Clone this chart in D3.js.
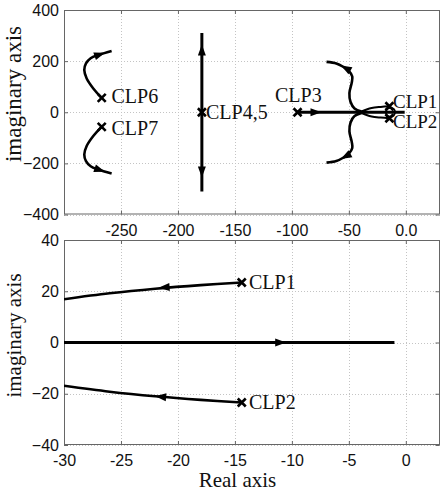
<!DOCTYPE html>
<html>
<head>
<meta charset="utf-8">
<script src="https://cdn.jsdelivr.net/npm/d3@7"></script>
<style>
body { margin: 0; background: #fff; }
</style>
</head>
<body>
<svg id="chart" width="440" height="494"></svg>
<script>
// ticks
var topXTicks = [-250, -200, -150, -100, -50, 0];
var topXLabels = ["-250", "-200", "-150", "-100", "-50", "0.0"];
var topYTicks = [400, 200, 0, -200, -400];
var botXTicks = [-30, -25, -20, -15, -10, -5, 0];
var botYTicks = [40, 20, 0, -20, -40];

// top view branches (real, imag)
var clp6Re = [-266.9, -274.3, -280.1, -282.2, -280.7, -276.6, -269.9, -258.2];
var clp6Im = [56, 93, 132, 165, 191, 211, 224, 240];
var clp7Re = [-266.9, -274.3, -280.1, -282.2, -280.7, -276.6, -269.9, -258.2];
var clp7Im = [-56, -93, -132, -165, -191, -211, -224, -240];
var clp45Re = [-179, -179];
var clp45Im = [310, -310];
var realRe = [-95, -1];
var realIm = [0, 0];
var clp1Re = [-14.4, -22, -30, -35, -38.9];
var clp1Im = [23.4, 21, 16.9, 10, 3];
var clp2Re = [-14.4, -22, -30, -35, -38.9];
var clp2Im = [-23.4, -21, -16.9, -10, -3];
var upRe = [-38.9, -45, -48.5, -49.5, -47.5, -47, -50, -55, -61, -69.6];
var upIm = [3, 15, 40, 75, 115, 140, 162, 178, 191, 197];
var dnRe = [-38.9, -45, -48.5, -49.5, -47.5, -47, -50, -55, -61, -69.6];
var dnIm = [-3, -15, -40, -75, -115, -140, -162, -178, -191, -197];

// bottom (zoomed) view branches
var zClp1Re = [-14.4, -18, -22, -26, -30];
var zClp1Im = [23.4, 22.4, 21.0, 19.2, 16.9];
var zClp2Re = [-14.4, -18, -22, -26, -30];
var zClp2Im = [-23.4, -22.4, -21.0, -19.2, -16.9];
var zRealRe = [-30, -1];
var zRealIm = [0, 0];

// poles
var topPoleNames = ["CLP6", "CLP7", "CLP4,5", "CLP3", "CLP1", "CLP2"];
var topPoleRe = [-266.9, -266.9, -179, -95, -14.4, -14.4];
var topPoleIm = [56, -57, 0, 0, 23.4, -23.4];
var botPoleNames = ["CLP1", "CLP2"];
var botPoleRe = [-14.4, -14.4];
var botPoleIm = [23.4, -23.4];

// arrows: tip (re, im) and a point behind it giving direction
var topArrowTip = [[-264, 233], [-264, -233], [-179, 265], [-179, -255], [-74, 0], [-57, 183], [-57, -183]];
var topArrowFrom = [[-273, 219], [-273, -219], [-179, 230], [-179, -220], [-90, 0], [-51, 168], [-51, -168]];
var botArrowTip = [[-21.7, 21.4], [-22, -21], [-10.5, 0]];
var botArrowFrom = [[-19, 22.2], [-19, -22.2], [-14, 0]];

var svg = d3.select("#chart");

function zip(re, im) {
  return re.map(function(v, i) { return [v, im[i]]; });
}

function panel(opt) {
  var x = d3.scaleLinear().domain(opt.xDomain).range([64, 440]);
  var y = d3.scaleLinear().domain(opt.yDomain).range([opt.bottom, opt.top]);
  var g = svg.append("g");

  // grid
  g.selectAll(".gx").data(opt.xTicks).enter().append("line")
    .attr("x1", function(d) { return Math.round(x(d)) + 0.5; })
    .attr("x2", function(d) { return Math.round(x(d)) + 0.5; })
    .attr("y1", opt.top).attr("y2", opt.bottom)
    .attr("stroke", "#c4c4c4").attr("stroke-dasharray", "1,2");
  g.selectAll(".gy").data(opt.yTicks).enter().append("line")
    .attr("y1", function(d) { return Math.round(y(d)) + 0.5; })
    .attr("y2", function(d) { return Math.round(y(d)) + 0.5; })
    .attr("x1", 64).attr("x2", 440)
    .attr("stroke", "#c4c4c4").attr("stroke-dasharray", "1,2");

  // axes
  var ax = d3.axisBottom(x).tickValues(opt.xTicks).tickSizeInner(-4).tickSizeOuter(0).tickPadding(opt.xPad)
    .tickFormat(function(d, i) { return opt.xLabels[i]; });
  g.append("g").attr("transform", "translate(0," + opt.bottom + ")").call(ax);
  g.append("g").attr("transform", "translate(0," + opt.top + ")")
    .call(d3.axisTop(x).tickValues(opt.xTicks).tickSizeInner(-4).tickSizeOuter(0).tickFormat(""));
  g.append("g").attr("transform", "translate(64,0)")
    .call(d3.axisLeft(y).tickValues(opt.yTicks).tickSizeInner(-4).tickSizeOuter(0).tickPadding(5));
  g.append("g").attr("transform", "translate(439.5,0)")
    .call(d3.axisRight(y).tickValues(opt.yTicks).tickSizeInner(-4).tickSizeOuter(0).tickFormat(""));
  g.selectAll(".domain").remove();
  g.selectAll(".tick line").attr("stroke", "#666");
  g.selectAll(".tick text").attr("font-family", "Liberation Sans, Arial, sans-serif")
    .attr("font-size", 16).attr("fill", "#111");

  g.append("rect").attr("x", 64.5).attr("y", opt.top + 0.5)
    .attr("width", 375).attr("height", opt.bottom - opt.top - 1)
    .attr("fill", "none").attr("stroke", "#666").attr("stroke-width", 1);

  // plot area
  var clipId = "clip" + opt.top;
  svg.append("clipPath").attr("id", clipId).append("rect")
    .attr("x", 64).attr("y", opt.top).attr("width", 376).attr("height", opt.bottom - opt.top);
  var p = g.append("g").attr("clip-path", "url(#" + clipId + ")");

  var line = d3.line().curve(d3.curveCatmullRom)
    .x(function(d) { return x(d[0]); }).y(function(d) { return y(d[1]); });
  opt.branches.forEach(function(b) {
    p.append("path").attr("d", line(b.pts)).attr("fill", "none")
      .attr("stroke", "#000").attr("stroke-width", b.w).attr("stroke-linecap", "butt");
  });

  opt.arrowTip.forEach(function(t, i) {
    var f = opt.arrowFrom[i];
    var tx = x(t[0]), ty = y(t[1]);
    var dx = tx - x(f[0]), dy = ty - y(f[1]);
    var len = Math.sqrt(dx * dx + dy * dy);
    dx /= len; dy /= len;
    var bx = tx - dx * 11, by = ty - dy * 11;
    var pts = [[tx, ty], [bx - dy * 4, by + dx * 4], [bx + dy * 4, by - dx * 4]];
    p.append("path").attr("d", "M" + pts.join("L") + "Z").attr("fill", "#000");
  });

  if (opt.circle) {
    p.append("circle").attr("cx", x(opt.circle[0])).attr("cy", y(opt.circle[1])).attr("r", 4.5)
      .attr("fill", "none").attr("stroke", "#000").attr("stroke-width", 2);
  }

  opt.poleRe.forEach(function(re, i) {
    var cx = x(re), cy = y(opt.poleIm[i]);
    p.append("path").attr("d", "M" + (cx - 4) + "," + (cy - 4) + "L" + (cx + 4) + "," + (cy + 4) +
      "M" + (cx - 4) + "," + (cy + 4) + "L" + (cx + 4) + "," + (cy - 4))
      .attr("stroke", "#000").attr("stroke-width", 2.6);
  });

  opt.labels.forEach(function(l) {
    g.append("text").attr("x", l.x).attr("y", l.y)
      .attr("font-family", "Liberation Serif, Times New Roman, serif")
      .attr("font-size", l.s || 20).attr("fill", "#111").text(l.t);
  });

  svg.append("text")
    .attr("transform", "translate(21," + opt.labelY + ") rotate(-90)")
    .attr("text-anchor", "middle")
    .attr("font-family", "Liberation Serif, Times New Roman, serif")
    .attr("font-size", opt.labelSize).attr("fill", "#111")
    .text("imaginary axis");
}

panel({
  xDomain: [-300, 30], yDomain: [-400, 400], top: 10, bottom: 214.5,
  xTicks: topXTicks, xLabels: topXLabels, yTicks: topYTicks, xPad: 10,
  branches: [
    { pts: zip(clp6Re, clp6Im), w: 2.6 },
    { pts: zip(clp7Re, clp7Im), w: 2.6 },
    { pts: zip(clp45Re, clp45Im), w: 3 },
    { pts: zip(realRe, realIm), w: 3 },
    { pts: zip(clp1Re, clp1Im), w: 2 },
    { pts: zip(clp2Re, clp2Im), w: 2 },
    { pts: zip(upRe, upIm), w: 2.6 },
    { pts: zip(dnRe, dnIm), w: 2.6 }
  ],
  arrowTip: topArrowTip, arrowFrom: topArrowFrom,
  circle: [-13.5, 0],
  poleRe: topPoleRe, poleIm: topPoleIm,
  labels: [
    { t: topPoleNames[0], x: 111.5, y: 103 },
    { t: topPoleNames[1], x: 111.5, y: 135 },
    { t: topPoleNames[2], x: 206, y: 118.5 },
    { t: topPoleNames[3], x: 275, y: 101.5 },
    { t: topPoleNames[4], x: 393, y: 108, s: 19 },
    { t: topPoleNames[5], x: 393, y: 128, s: 19 }
  ],
  labelY: 94, labelSize: 23
});

panel({
  xDomain: [-30, 3], yDomain: [-40, 40], top: 240, bottom: 445,
  xTicks: botXTicks, xLabels: botXTicks.map(String), yTicks: botYTicks, xPad: 9.5,
  branches: [
    { pts: zip(zClp1Re, zClp1Im), w: 2.6 },
    { pts: zip(zClp2Re, zClp2Im), w: 2.6 },
    { pts: zip(zRealRe, zRealIm), w: 3 }
  ],
  arrowTip: botArrowTip, arrowFrom: botArrowFrom,
  poleRe: botPoleRe, poleIm: botPoleIm,
  labels: [
    { t: botPoleNames[0], x: 249, y: 289 },
    { t: botPoleNames[1], x: 249, y: 408.5 }
  ],
  labelY: 335.5, labelSize: 21
});

svg.append("text")
  .attr("x", 237.5).attr("y", 487)
  .attr("text-anchor", "middle")
  .attr("font-family", "Liberation Serif, Times New Roman, serif")
  .attr("font-size", 21).attr("fill", "#111")
  .text("Real axis");
</script>
</body>
</html>
